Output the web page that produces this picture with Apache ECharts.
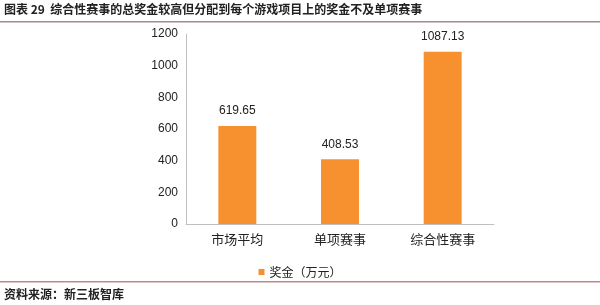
<!DOCTYPE html>
<html>
<head>
<meta charset="utf-8">
<style>
  html, body { margin: 0; padding: 0; background: #fff; }
  #chart { width: 600px; height: 305px; }
</style>
<script src="https://cdn.jsdelivr.net/npm/echarts@6/dist/echarts.min.js"></script>
</head>
<body>
<div id="chart"></div>
<script>
// --- data ---
const categories = ['市场平均', '单项赛事', '综合性赛事'];
const prizeValues = [619.65, 408.53, 1087.13];
const seriesName = '奖金（万元）';
const yTicks = [0, 200, 400, 600, 800, 1000, 1200];

const chart = echarts.init(document.getElementById('chart'));
const cjk = '"Noto Sans CJK SC", sans-serif';
const latin = '"Liberation Sans", sans-serif';

const option = {
  backgroundColor: '#fff',
  animation: false,
  textStyle: { fontFamily: cjk },
  graphic: [
    {
      type: 'text', left: 4, top: 3,
      style: {
        text: '图表 29  综合性赛事的总奖金较高但分配到每个游戏项目上的奖金不及单项赛事',
        font: 'bold 12px ' + cjk, fill: '#222'
      }
    },
    { type: 'rect', shape: { x: 0, y: 21, width: 600, height: 1.5 }, style: { fill: '#a88a8a' } },
    { type: 'rect', shape: { x: 0, y: 281, width: 600, height: 1.5 }, style: { fill: '#c48888' } },
    {
      type: 'text', left: 4, top: 288,
      style: { text: '资料来源：新三板智库', font: 'bold 12px ' + cjk, fill: '#222' }
    }
  ],
  legend: {
    data: [seriesName],
    top: 261,
    left: 'center',
    itemWidth: 6,
    itemHeight: 6,
    itemGap: 3,
    icon: 'rect',
    textStyle: { fontSize: 12, color: '#222', fontFamily: cjk }
  },
  grid: { left: 186, right: 106, top: 34, bottom: 81 },
  xAxis: {
    type: 'category',
    data: categories,
    axisLine: { lineStyle: { color: '#bfbfbf' } },
    axisTick: { show: false },
    axisLabel: { fontSize: 13, color: '#222', margin: 9, fontFamily: cjk }
  },
  yAxis: {
    type: 'value',
    min: yTicks[0],
    max: yTicks[yTicks.length - 1],
    interval: 200,
    axisLine: { show: true, lineStyle: { color: '#bfbfbf' } },
    axisTick: { show: false },
    splitLine: { show: false },
    axisLabel: {
      fontSize: 12, color: '#222', margin: 8, fontFamily: latin,
      formatter: v => String(v)
    }
  },
  series: [{
    name: seriesName,
    type: 'bar',
    data: prizeValues,
    barWidth: '37%',
    itemStyle: { color: '#f7902f' },
    label: {
      show: true,
      position: 'top',
      distance: 9,
      fontSize: 12,
      color: '#222',
      fontFamily: latin,
      formatter: p => p.value.toFixed(2)
    }
  }]
};

chart.setOption(option);
</script>
</body>
</html>
